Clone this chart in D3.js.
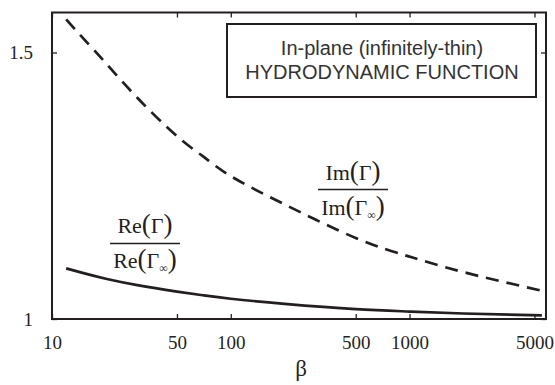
<!DOCTYPE html>
<html>
<head>
<meta charset="utf-8">
<script src="https://cdn.jsdelivr.net/npm/d3@7"></script>
<style>
  html, body { margin: 0; padding: 0; background: #fff; }
  svg { display: block; }
</style>
</head>
<body>
<svg id="chart" width="555" height="385"></svg>
<script>
// β sample points (log-spaced) and the normalised hydrodynamic function parts
const beta    = [12, 15, 20, 30, 50, 70, 100, 200, 500, 1000, 2000, 5500];
const reRatio = [1.095, 1.086, 1.0755, 1.0635, 1.0515, 1.0445, 1.038, 1.0285, 1.0185, 1.014, 1.0103, 1.0068];
const imRatio = [1.562, 1.526, 1.480, 1.415, 1.343, 1.305, 1.268, 1.215, 1.152, 1.117, 1.088, 1.053];

const xTicks = [10, 50, 100, 500, 1000, 5000];
const yTicks = [1, 1.5];
const yTickLabels = ["1", "1.5"];

const ink = "#231f20";
const serif = "'Liberation Serif', 'Times New Roman', serif";
const sans = "'Liberation Sans', Arial, sans-serif";

const svg = d3.select("#chart");
const plotLeft = 52, plotRight = 546, plotTop = 12.5, plotBottom = 319;

const x = d3.scaleLog().domain([10, 5800]).range([plotLeft, plotRight]);
const y = d3.scaleLinear().domain([1, 1.575]).range([plotBottom, plotTop]);

// axes: ticks point into the plot on all four sides
const axB = svg.append("g").attr("transform", `translate(0,${plotBottom})`)
  .call(d3.axisBottom(x).tickValues(xTicks).tickSize(-5).tickFormat(d3.format("d")));
const axT = svg.append("g").attr("transform", `translate(0,${plotTop})`)
  .call(d3.axisTop(x).tickValues(xTicks).tickSize(-5).tickFormat(""));
const axL = svg.append("g").attr("transform", `translate(${plotLeft},0)`)
  .call(d3.axisLeft(y).tickValues(yTicks).tickSize(-5).tickFormat((d, i) => yTickLabels[i]));
const axR = svg.append("g").attr("transform", `translate(${plotRight},0)`)
  .call(d3.axisRight(y).tickValues(yTicks).tickSize(-5).tickFormat(""));

[axB, axT, axL, axR].forEach(g => {
  g.select(".domain").remove();
  g.selectAll(".tick line").attr("stroke", ink).attr("stroke-width", 1.3);
});
axB.selectAll(".tick text")
  .attr("y", 17).attr("dy", "0.71em")
  .style("font-family", serif).style("font-size", "19px").attr("fill", ink);
axL.selectAll(".tick text")
  .attr("x", -19).attr("dy", "0.33em")
  .style("font-family", serif).style("font-size", "19px").attr("fill", ink);

// frame
svg.append("rect")
  .attr("x", plotLeft).attr("y", plotTop)
  .attr("width", plotRight - plotLeft).attr("height", plotBottom - plotTop)
  .attr("fill", "none").attr("stroke", ink).attr("stroke-width", 2);

// curves
const line = d3.line().curve(d3.curveNatural);
const rePts = beta.map((b, i) => [x(b), y(reRatio[i])]);
const imPts = beta.map((b, i) => [x(b), y(imRatio[i])]);

svg.append("path").attr("d", line(rePts))
  .attr("fill", "none").attr("stroke", ink).attr("stroke-width", 2.7);
svg.append("path").attr("d", line(imPts))
  .attr("fill", "none").attr("stroke", ink).attr("stroke-width", 2.7)
  .attr("stroke-dasharray", "13,8");

// x axis title
svg.append("text").attr("x", 301).attr("y", 376)
  .attr("text-anchor", "middle")
  .style("font-family", serif).style("font-size", "23px").attr("fill", ink)
  .text("β");

// title box
svg.append("rect")
  .attr("x", 227).attr("y", 24).attr("width", 309).attr("height", 73)
  .attr("fill", "#fff").attr("stroke", ink).attr("stroke-width", 2);
const title = svg.append("text")
  .attr("text-anchor", "middle")
  .style("font-family", sans).style("font-size", "20px").attr("fill", "#333");
title.append("tspan").attr("x", 382).attr("y", 54.5).text("In-plane (infinitely-thin)");
title.append("tspan").attr("x", 382).attr("y", 78.5).text("HYDRODYNAMIC FUNCTION");

// fraction labels
function fraction(cx, numBase, barY, denBase, part, barW) {
  const g = svg.append("g")
    .style("font-family", serif).attr("fill", ink);
  const num = g.append("text").attr("x", cx).attr("y", numBase)
    .attr("text-anchor", "middle").style("font-size", "22px");
  num.append("tspan").text(part);
  num.append("tspan").style("font-size", "27px").text("(");
  num.append("tspan").text("Γ");
  num.append("tspan").style("font-size", "27px").text(")");

  g.append("line")
    .attr("x1", cx - barW / 2).attr("x2", cx + barW / 2)
    .attr("y1", barY).attr("y2", barY)
    .attr("stroke", ink).attr("stroke-width", 1.3);

  const den = g.append("text").attr("x", cx).attr("y", denBase)
    .attr("text-anchor", "middle").style("font-size", "22px");
  den.append("tspan").text(part);
  den.append("tspan").style("font-size", "27px").text("(");
  den.append("tspan").text("Γ");
  den.append("tspan").style("font-size", "12px").attr("dy", 4).text("∞");
  den.append("tspan").style("font-size", "27px").attr("dy", -4).text(")");
}
fraction(145, 233, 243.5, 268, "Re", 70);
fraction(353, 180, 189.5, 215, "Im", 70);
</script>
</body>
</html>
